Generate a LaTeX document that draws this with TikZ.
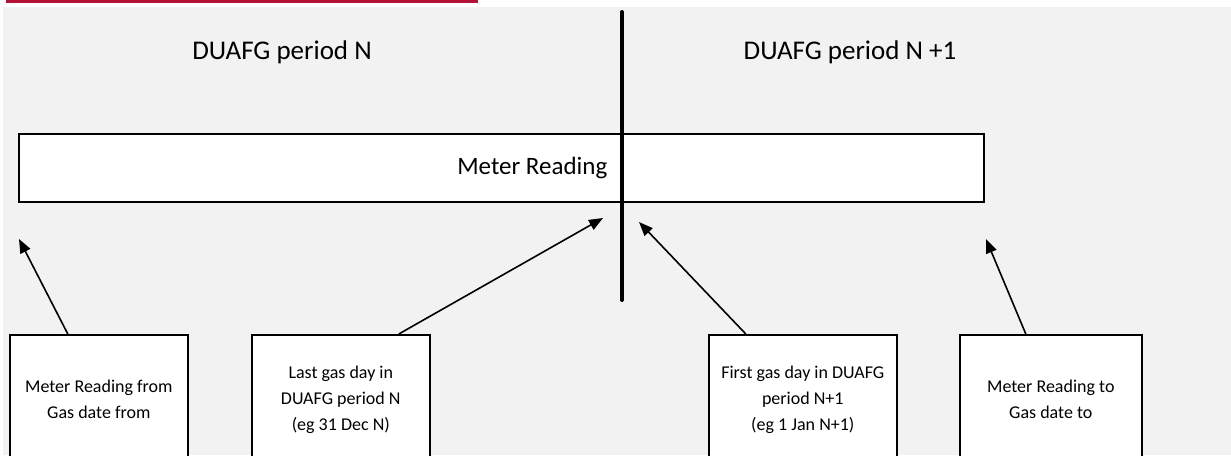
\documentclass[tikz,border=0pt]{standalone}
\usepackage{fontspec}
\setmainfont{Carlito}
\usetikzlibrary{arrows.meta}
\definecolor{pagegrey}{RGB}{242,242,242}
\definecolor{barred}{RGB}{181,18,56}
\tikzset{
  infobox/.style={draw,fill=white,line width=1.6pt,anchor=north west,minimum width=#1,
    minimum height=130pt,inner sep=0pt,align=center,font=\fontsize{18}{26}\selectfont},
  pointer/.style={line width=1.6pt,-{Triangle[length=14pt,width=11pt]}},
  period/.style={font=\fontsize{27}{32}\selectfont},
}
\begin{document}
\begin{tikzpicture}[x=1pt,y=-1pt]
        \clip (0,0) rectangle (1231,455);
        \fill[pagegrey] (3,7) rectangle (1231,455);
        \fill[barred] (6,0) rectangle (478,2.5);

        \node[period] (periodN) at (282,52) {DUAFG period N};
        \node[period] (periodNext) at (850,52) {DUAFG period N +1};

        \node[draw,fill=white,line width=1.6pt,anchor=north west,inner sep=0pt,
              minimum width=965pt,minimum height=68pt,
              label={[xshift=31pt,font=\fontsize{25}{30}\selectfont]center:Meter Reading}]
              (reading) at (18,133) {};

        \draw[line width=4pt,line cap=round] (622,12) -- (622,300);

        \node[infobox=178pt] (readfrom) at (9,334) {Meter Reading from\\Gas date from};
        \node[infobox=178pt] (lastday) at (251,334) {Last gas day in\\DUAFG period N\\(eg 31 Dec N)};
        \node[infobox=188pt] (firstday) at (708,334) {First gas day in DUAFG\\period N+1\\(eg 1 Jan N+1)};
        \node[infobox=182pt] (readto) at (959,334) {Meter Reading to\\Gas date to};

        \coordinate (tipfrom) at (19,239);
        \coordinate (tiplast) at (603,218);
        \coordinate (tipfirst) at (639,222);
        \coordinate (tipto) at (986,239);

        \draw[pointer] ([xshift=-31pt]readfrom.north) -- (tipfrom);
        \draw[pointer] ([xshift=58pt]lastday.north) -- (tiplast);
        \draw[pointer] ([xshift=-57pt]firstday.north) -- (tipfirst);
        \draw[pointer] ([xshift=-25pt]readto.north) -- (tipto);
       \end{tikzpicture}
\end{document}
